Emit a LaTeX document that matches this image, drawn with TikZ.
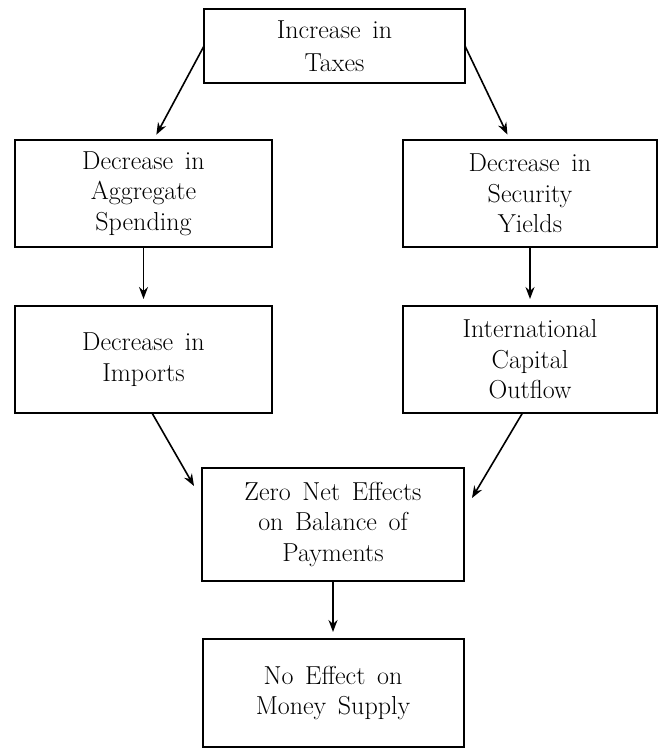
\documentclass[tikz,border=0pt]{standalone}
\usetikzlibrary{arrows.meta}
\newcommand\mybxfont{\fontsize{26}{30.5}\selectfont\spaceskip=0.45em plus 0.1em minus 0.05em\relax}
\begin{document}
\begin{tikzpicture}[x=1pt,y=-1pt,
  box/.style={draw, line width=2pt, inner sep=0pt, outer sep=0pt, align=center,
    font=\mybxfont},
  arr/.style={line width=1.6pt, -{Stealth[length=12pt,width=9pt]}}]
\useasboundingbox (0,0) rectangle (659,749);
\node[box, minimum width=261pt, minimum height=74pt] (top) at (334.5,46) {Increase in\\[2pt]Taxes};
\node[box, minimum width=257pt, minimum height=107pt] (l2) at (143.5,193.5) {Decrease in\\Aggregate\\Spending};
\node[box, minimum width=254pt, minimum height=107pt] (r2) at (530,193.5) {Decrease in\\Security\\Yields};
\node[box, minimum width=257pt, minimum height=107pt] (l3) at (143.5,359.5) {Decrease in\\Imports};
\node[box, minimum width=254pt, minimum height=107pt] (r3) at (530,359.5) {International\\Capital\\Outflow};
\node[box, minimum width=262pt, minimum height=113pt] (c) at (333,524.5) {Zero Net Effects\\on Balance of\\Payments};
\node[box, minimum width=261pt, minimum height=108pt] (b) at (333,693) {No Effect on\\Money Supply};
\coordinate (lin) at ([xshift=-8pt,yshift=-18pt]c.north west);
\coordinate (rin) at ([xshift=8pt,yshift=-30pt]c.north east);
\draw[arr, shorten >=6pt] (top.west) -- ([xshift=10pt]l2.north);
\draw[arr, shorten >=6pt] (top.east) -- ([xshift=-20pt]r2.north);
\draw[arr, shorten >=7pt] (l2.south) -- (l3.north);
\draw[arr, shorten >=7pt] (r2.south) -- (r3.north);
\draw[arr] ([xshift=8.5pt]l3.south) -- (lin);
\draw[arr] ([xshift=-7.5pt]r3.south) -- (rin);
\draw[arr, shorten >=7pt] (c.south) -- (b.north);
\end{tikzpicture}
\end{document}
